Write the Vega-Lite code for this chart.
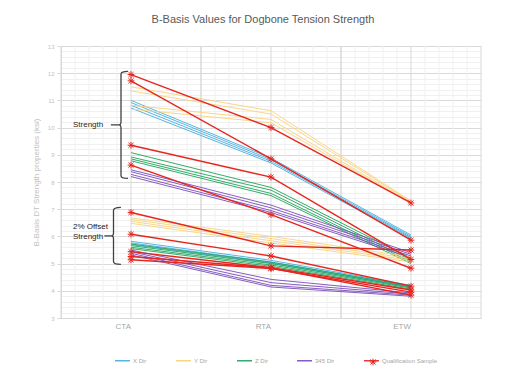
{
  "$schema": "https://vega.github.io/schema/vega-lite/v6.json",
  "width": 420,
  "height": 272,
  "autosize": {"type": "none"},
  "padding": {"left": 61, "top": 46, "right": 46, "bottom": 65},
  "background": "white",
  "title": {
    "text": "B-Basis Values for Dogbone Tension Strength",
    "font": "Liberation Sans Narrow, Liberation Sans, sans-serif",
    "fontSize": 11,
    "fontWeight": "normal",
    "color": "#595959",
    "anchor": "middle",
    "dx": -8,
    "offset": 18
  },
  "config": {
    "view": {"stroke": null},
    "font": "Liberation Sans Narrow, Liberation Sans, sans-serif"
  },
  "resolve": {"legend": {"shape": "independent"}},
  "datasets": {
    "lines": [
      {"series": "X Dir", "id": "X-S1", "pos": "CTA", "v": 11.00}, {"series": "X Dir", "id": "X-S1", "pos": "RTA", "v": 8.88}, {"series": "X Dir", "id": "X-S1", "pos": "ETW", "v": 6.05},
      {"series": "X Dir", "id": "X-S2", "pos": "CTA", "v": 10.92}, {"series": "X Dir", "id": "X-S2", "pos": "RTA", "v": 8.82}, {"series": "X Dir", "id": "X-S2", "pos": "ETW", "v": 6.00},
      {"series": "X Dir", "id": "X-S3", "pos": "CTA", "v": 10.82}, {"series": "X Dir", "id": "X-S3", "pos": "RTA", "v": 8.76}, {"series": "X Dir", "id": "X-S3", "pos": "ETW", "v": 5.96},
      {"series": "X Dir", "id": "X-S4", "pos": "CTA", "v": 10.72}, {"series": "X Dir", "id": "X-S4", "pos": "RTA", "v": 8.70}, {"series": "X Dir", "id": "X-S4", "pos": "ETW", "v": 5.92},
      {"series": "Y Dir", "id": "Y-S1", "pos": "CTA", "v": 11.50}, {"series": "Y Dir", "id": "Y-S1", "pos": "RTA", "v": 10.62}, {"series": "Y Dir", "id": "Y-S1", "pos": "ETW", "v": 7.30},
      {"series": "Y Dir", "id": "Y-S2", "pos": "CTA", "v": 11.35}, {"series": "Y Dir", "id": "Y-S2", "pos": "RTA", "v": 10.50}, {"series": "Y Dir", "id": "Y-S2", "pos": "ETW", "v": 7.27},
      {"series": "Y Dir", "id": "Y-S3", "pos": "CTA", "v": 10.82}, {"series": "Y Dir", "id": "Y-S3", "pos": "RTA", "v": 10.30}, {"series": "Y Dir", "id": "Y-S3", "pos": "ETW", "v": 7.24},
      {"series": "Y Dir", "id": "Y-S4", "pos": "CTA", "v": 10.68}, {"series": "Y Dir", "id": "Y-S4", "pos": "RTA", "v": 10.18}, {"series": "Y Dir", "id": "Y-S4", "pos": "ETW", "v": 7.21},
      {"series": "Z Dir", "id": "Z-S1", "pos": "CTA", "v": 9.08}, {"series": "Z Dir", "id": "Z-S1", "pos": "RTA", "v": 7.80}, {"series": "Z Dir", "id": "Z-S1", "pos": "ETW", "v": 5.20},
      {"series": "Z Dir", "id": "Z-S2", "pos": "CTA", "v": 8.92}, {"series": "Z Dir", "id": "Z-S2", "pos": "RTA", "v": 7.70}, {"series": "Z Dir", "id": "Z-S2", "pos": "ETW", "v": 5.12},
      {"series": "Z Dir", "id": "Z-S3", "pos": "CTA", "v": 8.85}, {"series": "Z Dir", "id": "Z-S3", "pos": "RTA", "v": 7.58}, {"series": "Z Dir", "id": "Z-S3", "pos": "ETW", "v": 5.06},
      {"series": "Z Dir", "id": "Z-S4", "pos": "CTA", "v": 8.78}, {"series": "Z Dir", "id": "Z-S4", "pos": "RTA", "v": 7.50}, {"series": "Z Dir", "id": "Z-S4", "pos": "ETW", "v": 5.00},
      {"series": "345 Dir", "id": "P-S1", "pos": "CTA", "v": 8.45}, {"series": "345 Dir", "id": "P-S1", "pos": "RTA", "v": 7.15}, {"series": "345 Dir", "id": "P-S1", "pos": "ETW", "v": 5.40},
      {"series": "345 Dir", "id": "P-S2", "pos": "CTA", "v": 8.38}, {"series": "345 Dir", "id": "P-S2", "pos": "RTA", "v": 7.05}, {"series": "345 Dir", "id": "P-S2", "pos": "ETW", "v": 5.34},
      {"series": "345 Dir", "id": "P-S3", "pos": "CTA", "v": 8.28}, {"series": "345 Dir", "id": "P-S3", "pos": "RTA", "v": 6.95}, {"series": "345 Dir", "id": "P-S3", "pos": "ETW", "v": 5.28},
      {"series": "345 Dir", "id": "P-S4", "pos": "CTA", "v": 8.20}, {"series": "345 Dir", "id": "P-S4", "pos": "RTA", "v": 6.88}, {"series": "345 Dir", "id": "P-S4", "pos": "ETW", "v": 5.22},
      {"series": "X Dir", "id": "X-O1", "pos": "CTA", "v": 5.82}, {"series": "X Dir", "id": "X-O1", "pos": "RTA", "v": 5.12}, {"series": "X Dir", "id": "X-O1", "pos": "ETW", "v": 4.20},
      {"series": "X Dir", "id": "X-O2", "pos": "CTA", "v": 5.76}, {"series": "X Dir", "id": "X-O2", "pos": "RTA", "v": 5.06}, {"series": "X Dir", "id": "X-O2", "pos": "ETW", "v": 4.15},
      {"series": "X Dir", "id": "X-O3", "pos": "CTA", "v": 5.70}, {"series": "X Dir", "id": "X-O3", "pos": "RTA", "v": 5.02}, {"series": "X Dir", "id": "X-O3", "pos": "ETW", "v": 4.12},
      {"series": "Y Dir", "id": "Y-O1", "pos": "CTA", "v": 6.68}, {"series": "Y Dir", "id": "Y-O1", "pos": "RTA", "v": 6.00}, {"series": "Y Dir", "id": "Y-O1", "pos": "ETW", "v": 5.25},
      {"series": "Y Dir", "id": "Y-O2", "pos": "CTA", "v": 6.62}, {"series": "Y Dir", "id": "Y-O2", "pos": "RTA", "v": 5.92}, {"series": "Y Dir", "id": "Y-O2", "pos": "ETW", "v": 5.18},
      {"series": "Y Dir", "id": "Y-O3", "pos": "CTA", "v": 6.55}, {"series": "Y Dir", "id": "Y-O3", "pos": "RTA", "v": 5.84}, {"series": "Y Dir", "id": "Y-O3", "pos": "ETW", "v": 5.12},
      {"series": "Y Dir", "id": "Y-O4", "pos": "CTA", "v": 6.48}, {"series": "Y Dir", "id": "Y-O4", "pos": "RTA", "v": 5.76}, {"series": "Y Dir", "id": "Y-O4", "pos": "ETW", "v": 5.06},
      {"series": "Z Dir", "id": "Z-O1", "pos": "CTA", "v": 5.72}, {"series": "Z Dir", "id": "Z-O1", "pos": "RTA", "v": 5.05}, {"series": "Z Dir", "id": "Z-O1", "pos": "ETW", "v": 4.18},
      {"series": "Z Dir", "id": "Z-O2", "pos": "CTA", "v": 5.66}, {"series": "Z Dir", "id": "Z-O2", "pos": "RTA", "v": 5.00}, {"series": "Z Dir", "id": "Z-O2", "pos": "ETW", "v": 4.14},
      {"series": "Z Dir", "id": "Z-O3", "pos": "CTA", "v": 5.60}, {"series": "Z Dir", "id": "Z-O3", "pos": "RTA", "v": 4.95}, {"series": "Z Dir", "id": "Z-O3", "pos": "ETW", "v": 4.10},
      {"series": "Z Dir", "id": "Z-O4", "pos": "CTA", "v": 5.55}, {"series": "Z Dir", "id": "Z-O4", "pos": "RTA", "v": 4.90}, {"series": "Z Dir", "id": "Z-O4", "pos": "ETW", "v": 4.06},
      {"series": "345 Dir", "id": "P-O1", "pos": "CTA", "v": 5.50}, {"series": "345 Dir", "id": "P-O1", "pos": "RTA", "v": 4.42}, {"series": "345 Dir", "id": "P-O1", "pos": "ETW", "v": 3.92},
      {"series": "345 Dir", "id": "P-O2", "pos": "CTA", "v": 5.44}, {"series": "345 Dir", "id": "P-O2", "pos": "RTA", "v": 4.30}, {"series": "345 Dir", "id": "P-O2", "pos": "ETW", "v": 3.88},
      {"series": "345 Dir", "id": "P-O3", "pos": "CTA", "v": 5.38}, {"series": "345 Dir", "id": "P-O3", "pos": "RTA", "v": 4.20}, {"series": "345 Dir", "id": "P-O3", "pos": "ETW", "v": 3.84},
      {"series": "345 Dir", "id": "P-O4", "pos": "CTA", "v": 5.32}, {"series": "345 Dir", "id": "P-O4", "pos": "RTA", "v": 4.14}, {"series": "345 Dir", "id": "P-O4", "pos": "ETW", "v": 3.80},
      {"series": "Qualification Sample", "id": "Q1", "pos": "CTA", "v": 11.95}, {"series": "Qualification Sample", "id": "Q1", "pos": "RTA", "v": 10.00}, {"series": "Qualification Sample", "id": "Q1", "pos": "ETW", "v": 7.23},
      {"series": "Qualification Sample", "id": "Q2", "pos": "CTA", "v": 11.72}, {"series": "Qualification Sample", "id": "Q2", "pos": "RTA", "v": 8.85}, {"series": "Qualification Sample", "id": "Q2", "pos": "ETW", "v": 5.86},
      {"series": "Qualification Sample", "id": "Q3", "pos": "CTA", "v": 9.35}, {"series": "Qualification Sample", "id": "Q3", "pos": "RTA", "v": 8.18}, {"series": "Qualification Sample", "id": "Q3", "pos": "ETW", "v": 5.15},
      {"series": "Qualification Sample", "id": "Q4", "pos": "CTA", "v": 8.62}, {"series": "Qualification Sample", "id": "Q4", "pos": "RTA", "v": 6.80}, {"series": "Qualification Sample", "id": "Q4", "pos": "ETW", "v": 4.83},
      {"series": "Qualification Sample", "id": "Q5", "pos": "CTA", "v": 6.88}, {"series": "Qualification Sample", "id": "Q5", "pos": "RTA", "v": 5.65}, {"series": "Qualification Sample", "id": "Q5", "pos": "ETW", "v": 5.50},
      {"series": "Qualification Sample", "id": "Q6", "pos": "CTA", "v": 6.08}, {"series": "Qualification Sample", "id": "Q6", "pos": "RTA", "v": 5.28}, {"series": "Qualification Sample", "id": "Q6", "pos": "ETW", "v": 4.17},
      {"series": "Qualification Sample", "id": "Q7", "pos": "CTA", "v": 5.44}, {"series": "Qualification Sample", "id": "Q7", "pos": "RTA", "v": 4.85}, {"series": "Qualification Sample", "id": "Q7", "pos": "ETW", "v": 4.03},
      {"series": "Qualification Sample", "id": "Q8", "pos": "CTA", "v": 5.26}, {"series": "Qualification Sample", "id": "Q8", "pos": "RTA", "v": 4.84}, {"series": "Qualification Sample", "id": "Q8", "pos": "ETW", "v": 3.84},
      {"series": "Qualification Sample", "id": "Q9", "pos": "CTA", "v": 5.14}, {"series": "Qualification Sample", "id": "Q9", "pos": "RTA", "v": 4.82}, {"series": "Qualification Sample", "id": "Q9", "pos": "ETW", "v": 3.95}
    ],
    "notes": [
      {"group": "strength", "label": "Strength", "pos": "CTA", "v": 10.1, "tv": 10.1},
      {"group": "offset", "label": "2% Offset\nStrength", "pos": "CTA", "v": 6.02, "tv": 6.36}
    ]
  },
  "layer": [
    {
      "data": {"name": "lines"},
      "transform": [{"aggregate": [{"op": "count", "as": "n"}], "groupby": ["pos"]}],
      "mark": {"type": "rule", "color": "#f0f0f0", "strokeWidth": 1},
      "encoding": {"x": {"field": "pos", "type": "nominal", "bandPosition": 0.1, "sort": ["CTA", "RTA", "ETW"]}}
    },
    {
      "data": {"name": "lines"},
      "transform": [{"aggregate": [{"op": "count", "as": "n"}], "groupby": ["pos"]}],
      "mark": {"type": "rule", "color": "#f0f0f0", "strokeWidth": 1},
      "encoding": {"x": {"field": "pos", "type": "nominal", "bandPosition": 0.2, "sort": ["CTA", "RTA", "ETW"]}}
    },
    {
      "data": {"name": "lines"},
      "transform": [{"aggregate": [{"op": "count", "as": "n"}], "groupby": ["pos"]}],
      "mark": {"type": "rule", "color": "#f0f0f0", "strokeWidth": 1},
      "encoding": {"x": {"field": "pos", "type": "nominal", "bandPosition": 0.3, "sort": ["CTA", "RTA", "ETW"]}}
    },
    {
      "data": {"name": "lines"},
      "transform": [{"aggregate": [{"op": "count", "as": "n"}], "groupby": ["pos"]}],
      "mark": {"type": "rule", "color": "#f0f0f0", "strokeWidth": 1},
      "encoding": {"x": {"field": "pos", "type": "nominal", "bandPosition": 0.4, "sort": ["CTA", "RTA", "ETW"]}}
    },
    {
      "data": {"name": "lines"},
      "transform": [{"aggregate": [{"op": "count", "as": "n"}], "groupby": ["pos"]}],
      "mark": {"type": "rule", "color": "#f0f0f0", "strokeWidth": 1},
      "encoding": {"x": {"field": "pos", "type": "nominal", "bandPosition": 0.6, "sort": ["CTA", "RTA", "ETW"]}}
    },
    {
      "data": {"name": "lines"},
      "transform": [{"aggregate": [{"op": "count", "as": "n"}], "groupby": ["pos"]}],
      "mark": {"type": "rule", "color": "#f0f0f0", "strokeWidth": 1},
      "encoding": {"x": {"field": "pos", "type": "nominal", "bandPosition": 0.7, "sort": ["CTA", "RTA", "ETW"]}}
    },
    {
      "data": {"name": "lines"},
      "transform": [{"aggregate": [{"op": "count", "as": "n"}], "groupby": ["pos"]}],
      "mark": {"type": "rule", "color": "#f0f0f0", "strokeWidth": 1},
      "encoding": {"x": {"field": "pos", "type": "nominal", "bandPosition": 0.8, "sort": ["CTA", "RTA", "ETW"]}}
    },
    {
      "data": {"name": "lines"},
      "transform": [{"aggregate": [{"op": "count", "as": "n"}], "groupby": ["pos"]}],
      "mark": {"type": "rule", "color": "#f0f0f0", "strokeWidth": 1},
      "encoding": {"x": {"field": "pos", "type": "nominal", "bandPosition": 0.9, "sort": ["CTA", "RTA", "ETW"]}}
    },
    {
      "data": {"name": "lines"},
      "transform": [{"aggregate": [{"op": "count", "as": "n"}], "groupby": ["pos"]}],
      "mark": {"type": "rule", "color": "#d9d9d9", "strokeWidth": 1},
      "encoding": {"x": {"field": "pos", "type": "nominal", "bandPosition": 0, "sort": ["CTA", "RTA", "ETW"]}}
    },
    {
      "data": {"name": "lines"},
      "transform": [{"aggregate": [{"op": "count", "as": "n"}], "groupby": ["pos"]}],
      "mark": {"type": "rule", "color": "#d9d9d9", "strokeWidth": 1},
      "encoding": {"x": {"field": "pos", "type": "nominal", "bandPosition": 0.5, "sort": ["CTA", "RTA", "ETW"]}}
    },
    {
      "data": {"name": "lines"},
      "transform": [{"aggregate": [{"op": "count", "as": "n"}], "groupby": ["pos"]}],
      "mark": {"type": "rule", "color": "#d9d9d9", "strokeWidth": 1},
      "encoding": {"x": {"field": "pos", "type": "nominal", "bandPosition": 1, "sort": ["CTA", "RTA", "ETW"]}}
    },
    {
      "data": {"name": "lines"},
      "transform": [{"filter": "datum.series !== 'Qualification Sample'"}],
      "mark": {"type": "line", "strokeWidth": 1, "opacity": 0.9},
      "encoding": {
        "x": {
          "field": "pos", "type": "nominal", "bandPosition": 0.5,
          "sort": ["CTA", "RTA", "ETW"],
          "scale": {"type": "band", "paddingInner": 0, "paddingOuter": 0},
          "axis": {
            "title": null, "ticks": false, "grid": false, "labelAngle": 0,
            "labelColor": "#a6a6a6", "labelFontSize": 8, "labelPadding": 8,
            "domainColor": "#d9d9d9"
          }
        },
        "y": {
          "field": "v", "type": "quantitative",
          "scale": {"domain": [3, 13], "nice": false, "zero": false},
          "axis": {
            "title": "B-Basis DT Strength properties (ksi)",
            "titleColor": "#bfbfbf", "titleFontSize": 8, "titleFontWeight": "normal", "titlePadding": 7,
            "tickCount": 50,
            "labelExpr": "abs(datum.value - round(datum.value)) < 0.001 ? format(datum.value, 'd') : ''",
            "labelOverlap": false,
            "labelColor": "#bfbfbf", "labelFontSize": 6, "labelPadding": 3,
            "grid": true,
            "gridColor": {"condition": {"test": "abs(datum.value - round(datum.value)) < 0.001", "value": "#d9d9d9"}, "value": "#f0f0f0"},
            "tickColor": {"condition": {"test": "abs(datum.value - round(datum.value)) < 0.001", "value": "#d9d9d9"}, "value": "transparent"},
            "tickSize": 4,
            "domainColor": "#d9d9d9"
          }
        },
        "detail": {"field": "id"},
        "color": {
          "field": "series", "type": "nominal",
          "scale": {
            "domain": ["X Dir", "Y Dir", "Z Dir", "345 Dir", "Qualification Sample"],
            "range": ["#45ade0", "#f8d27c", "#1fa35a", "#7b4bba", "#e4261f"]
          },
          "legend": {
            "title": null, "orient": "none", "direction": "horizontal",
            "legendX": 53, "legendY": 306, "padding": 0,
            "symbolType": "stroke", "symbolSize": 225, "symbolStrokeWidth": 1.5,
            "labelFontSize": 6, "labelColor": "#a6a6a6", "labelOffset": 2,
            "columnPadding": 26
          }
        }
      }
    },
    {
      "data": {"name": "lines"},
      "transform": [{"filter": "datum.series === 'Qualification Sample'"}],
      "mark": {"type": "line", "strokeWidth": 1.4},
      "encoding": {
        "x": {"field": "pos", "type": "nominal", "bandPosition": 0.5, "sort": ["CTA", "RTA", "ETW"]},
        "y": {"field": "v", "type": "quantitative"},
        "detail": {"field": "id"},
        "color": {"field": "series", "type": "nominal"}
      }
    },
    {
      "data": {"name": "lines"},
      "transform": [{"filter": "datum.series === 'Qualification Sample'"}],
      "mark": {"type": "point", "filled": false, "strokeWidth": 1, "size": 45, "opacity": 1},
      "encoding": {
        "x": {"field": "pos", "type": "nominal", "bandPosition": 0.5, "sort": ["CTA", "RTA", "ETW"]},
        "y": {"field": "v", "type": "quantitative"},
        "color": {"field": "series", "type": "nominal"},
        "shape": {
          "field": "series", "type": "nominal",
          "scale": {
            "domain": ["Qualification Sample"],
            "range": ["M-1,0L1,0M0,-1L0,1M-0.75,-0.75L0.75,0.75M-0.75,0.75L0.75,-0.75"]
          },
          "legend": {
            "title": null, "orient": "none", "legendX": 308, "legendY": 312, "padding": 0,
            "symbolSize": 45, "symbolStrokeWidth": 1, "symbolStrokeColor": "#e4261f",
            "symbolFillColor": "transparent", "labelExpr": "''", "labelFontSize": 6
          }
        }
      }
    },
    {
      "data": {"name": "notes"},
      "transform": [{"filter": "datum.group === 'strength'"}],
      "mark": {
        "type": "point", "filled": false, "color": "#404040", "strokeWidth": 1.3, "opacity": 1,
        "size": 11449, "xOffset": -10,
        "shape": "M0.13,-1Q0,-1 0,-0.95L0,-0.06Q0,0 -0.04,0L-0.19,0M-0.04,0Q0,0 0,0.06L0,0.95Q0,1 0.13,1"
      },
      "encoding": {
        "x": {"field": "pos", "type": "nominal", "bandPosition": 0.5, "sort": ["CTA", "RTA", "ETW"]},
        "y": {"field": "v", "type": "quantitative"}
      }
    },
    {
      "data": {"name": "notes"},
      "transform": [{"filter": "datum.group === 'offset'"}],
      "mark": {
        "type": "point", "filled": false, "color": "#404040", "strokeWidth": 1.3, "opacity": 1,
        "size": 3249, "xOffset": -17.5,
        "shape": "M0.26,-1Q0,-1 0,-0.9L0,-0.1Q0,0 -0.07,0L-0.32,0M-0.07,0Q0,0 0,0.1L0,0.9Q0,1 0.26,1"
      },
      "encoding": {
        "x": {"field": "pos", "type": "nominal", "bandPosition": 0.5, "sort": ["CTA", "RTA", "ETW"]},
        "y": {"field": "v", "type": "quantitative"}
      }
    },
    {
      "data": {"name": "notes"},
      "mark": {
        "type": "text", "align": "left", "baseline": "middle", "dx": 12,
        "fontSize": 8, "color": "#262626", "lineBreak": "\n", "lineHeight": 10
      },
      "encoding": {
        "x": {"field": "pos", "type": "nominal", "bandPosition": 0, "sort": ["CTA", "RTA", "ETW"]},
        "y": {"field": "tv", "type": "quantitative"},
        "text": {"field": "label"}
      }
    }
  ]
}
